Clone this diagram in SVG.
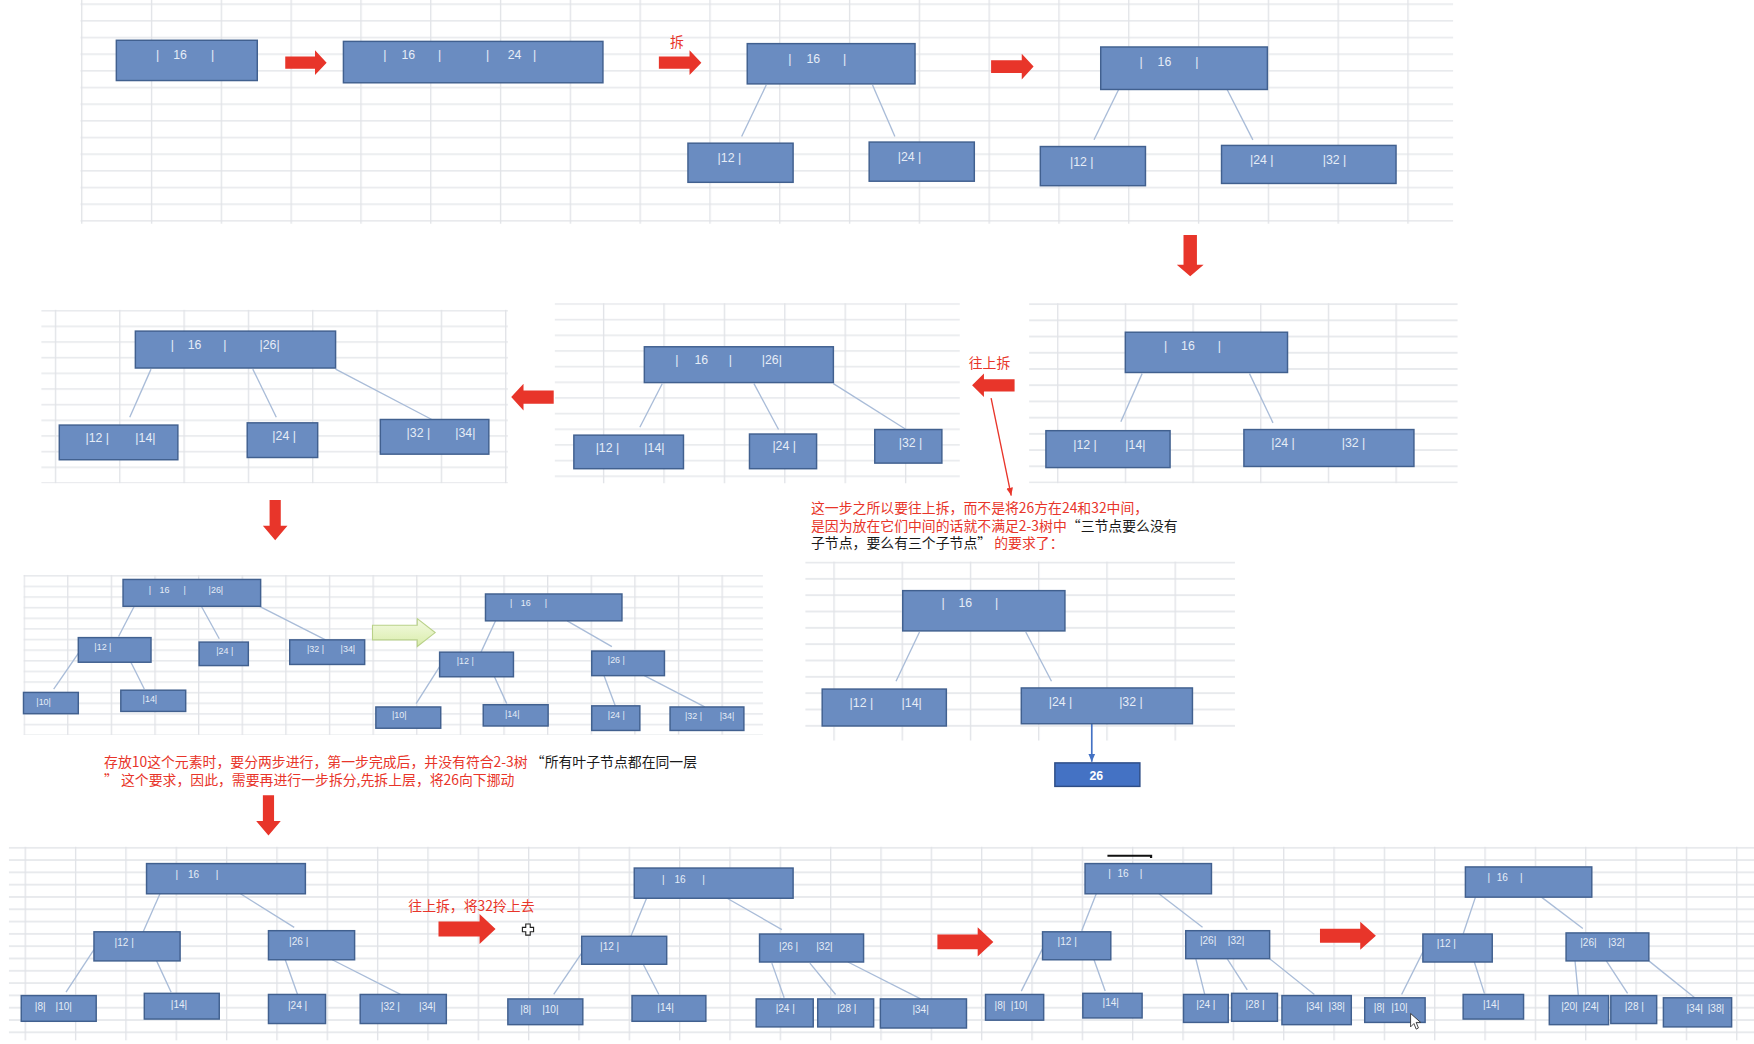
<svg xmlns="http://www.w3.org/2000/svg" width="1754" height="1044" viewBox="0 0 1754 1044">
<style>
.n rect{fill:#6a8cc1;stroke:#41608f;stroke-width:1.3}
.n text{fill:#e6edf7;font-family:"Liberation Sans",Arial,sans-serif;font-size:11px;text-anchor:middle}
.s text{font-size:8px}
.m text{font-size:9px}
.e line{stroke:#a9bcd8;stroke-width:1.2}
.ar{fill:#e8352a}
.t{font-family:"Noto Sans CJK SC","Liberation Sans",sans-serif;font-size:12.4px}
.r{fill:#e8352a}
.k{fill:#1a1a1a}
.gl{stroke:#e1e3e7;stroke-width:1.2;fill:none}
</style>
<defs>
<pattern id="gA" x="72.5" y="3" width="62.4" height="14.9" patternUnits="userSpaceOnUse"><path class="gl" d="M0,0.8H62.4M0.6,0V14.9"/></pattern>
<pattern id="gB1" x="49" y="277" width="57.5" height="14" patternUnits="userSpaceOnUse"><path class="gl" d="M0,0.8H57.5M0.6,0V14"/></pattern>
<pattern id="gB2" x="539" y="271" width="54" height="14" patternUnits="userSpaceOnUse"><path class="gl" d="M0,0.8H54M0.6,0V14"/></pattern>
<pattern id="gB3" x="945" y="271" width="60.5" height="14.5" patternUnits="userSpaceOnUse"><path class="gl" d="M0,0.8H60.5M0.6,0V14.5"/></pattern>
<pattern id="gC1" x="21" y="514" width="39" height="9.5" patternUnits="userSpaceOnUse"><path class="gl" d="M0,0.8H39M0.6,0V9.5"/></pattern>
<pattern id="gC2" x="745" y="502" width="61" height="14.6" patternUnits="userSpaceOnUse"><path class="gl" d="M0,0.8H61M0.6,0V14.6"/></pattern>
<pattern id="gD" x="22" y="757" width="45" height="11" patternUnits="userSpaceOnUse"><path class="gl" d="M0,0.8H45M0.6,0V11"/></pattern>
<linearGradient id="gg" x1="0" y1="0" x2="0" y2="1"><stop offset="0" stop-color="#f4fae3"/><stop offset="1" stop-color="#d9edaa"/></linearGradient>
<marker id="ma" markerWidth="8" markerHeight="8" refX="7" refY="4" orient="auto" markerUnits="userSpaceOnUse"><path d="M0,1L7,4L0,7Z" fill="#e8352a"/></marker>
<marker id="mb" markerWidth="8" markerHeight="8" refX="7" refY="4" orient="auto" markerUnits="userSpaceOnUse"><path d="M0,1L7,4L0,7Z" fill="#4472c4"/></marker>
</defs>
<rect width="1754" height="1044" fill="#fff"/>
<g transform="scale(1.11862)">
<g id="grids">
<rect x="72" y="0" width="1227" height="200" fill="url(#gA)"/>
<rect x="37" y="277" width="417" height="155" fill="url(#gB1)"/>
<rect x="496" y="271" width="362" height="161" fill="url(#gB2)"/>
<rect x="920" y="271" width="383" height="161" fill="url(#gB3)"/>
<rect x="21" y="514" width="661" height="143" fill="url(#gC1)"/>
<rect x="720" y="502" width="384" height="160" fill="url(#gC2)"/>
<rect x="8" y="757" width="1560" height="173" fill="url(#gD)"/>
</g>

<g id="connectors" class="e">
<line x1="685" y1="76" x2="663" y2="122"/>
<line x1="780" y1="76" x2="800" y2="122"/>
<line x1="1000" y1="80" x2="978" y2="125"/>
<line x1="1097" y1="80" x2="1120" y2="125"/>
<line x1="1021" y1="334" x2="1002" y2="377"/>
<line x1="1117" y1="334" x2="1138" y2="378"/>
<line x1="592" y1="343" x2="572" y2="382"/>
<line x1="674" y1="343" x2="696" y2="384"/>
<line x1="745" y1="343" x2="810" y2="384"/>
<line x1="135" y1="330" x2="116" y2="373"/>
<line x1="226" y1="330" x2="247" y2="373"/>
<line x1="300" y1="330" x2="386" y2="375"/>
<line x1="120" y1="542" x2="106" y2="569"/>
<line x1="180" y1="542" x2="196" y2="571"/>
<line x1="232" y1="542" x2="291" y2="572"/>
<line x1="70" y1="584" x2="48" y2="616"/>
<line x1="117" y1="592" x2="129" y2="616"/>
<line x1="443" y1="555" x2="430" y2="583"/>
<line x1="507" y1="555" x2="547" y2="578"/>
<line x1="393" y1="596" x2="372" y2="629"/>
<line x1="442" y1="605" x2="453" y2="629"/>
<line x1="540" y1="604" x2="550" y2="631"/>
<line x1="576" y1="604" x2="630" y2="632"/>
<line x1="822" y1="565" x2="801" y2="609"/>
<line x1="917" y1="565" x2="940" y2="609"/>
<line x1="143" y1="799" x2="128" y2="833"/>
<line x1="215" y1="799" x2="263" y2="829"/>
<line x1="84" y1="849" x2="59" y2="887"/>
<line x1="140" y1="859" x2="153" y2="887"/>
<line x1="255" y1="858" x2="266" y2="889"/>
<line x1="297" y1="858" x2="358" y2="889"/>
<line x1="578" y1="803" x2="564" y2="837"/>
<line x1="650" y1="803" x2="699" y2="831"/>
<line x1="520" y1="852" x2="495" y2="889"/>
<line x1="575" y1="862" x2="589" y2="889"/>
<line x1="690" y1="861" x2="701" y2="892"/>
<line x1="724" y1="861" x2="747" y2="889"/>
<line x1="758" y1="860" x2="823" y2="893"/>
<line x1="980" y1="799" x2="967" y2="832"/>
<line x1="1036" y1="799" x2="1075" y2="829"/>
<line x1="932" y1="848" x2="913" y2="886"/>
<line x1="978" y1="858" x2="988" y2="886"/>
<line x1="1069" y1="857" x2="1077" y2="889"/>
<line x1="1097" y1="857" x2="1115" y2="885"/>
<line x1="1135" y1="857" x2="1175" y2="889"/>
<line x1="1319" y1="802" x2="1308" y2="835"/>
<line x1="1378" y1="802" x2="1415" y2="830"/>
<line x1="1272" y1="851" x2="1253" y2="889"/>
<line x1="1318" y1="860" x2="1327" y2="888"/>
<line x1="1408" y1="859" x2="1411" y2="890"/>
<line x1="1436" y1="859" x2="1455" y2="888"/>
<line x1="1474" y1="859" x2="1515" y2="892"/>
<line x1="976" y1="647" x2="976" y2="681" style="stroke:#4472c4;stroke-width:1.5" marker-end="url(#mb)"/>
<line x1="886" y1="356" x2="904" y2="443" style="stroke:#e8352a;stroke-width:1.2" marker-end="url(#ma)"/>
</g>

<g id="arrows">
<path class="ar" d="M255,50.5H281.6V45L292,56L281.6,67V61.5H255Z"/>
<path class="ar" d="M589,50.5H616.4V45L627,56L616.4,67V61.5H589Z"/>
<path class="ar" d="M886,53.75H913.4V48L924,59.5L913.4,71V65.25H886Z"/>
<path class="ar" d="M1058,210H1070V236.6H1076L1064,247L1052,236.6H1058Z"/>
<path class="ar" d="M907,339H879.6V334L869,344.5L879.6,355V350H907Z"/>
<path class="ar" d="M495,349H468V343L457,355L468,367V361H495Z"/>
<path class="ar" d="M241,447H251V470H257L246,483L235,470H241Z"/>
<path class="ar" d="M235,711H245V734H251L240,747L229,734H235Z"/>
<path class="ar" d="M392,823.75H428.7V817L443,830.5L428.7,844V837.25H392Z"/>
<path class="ar" d="M838,835.5H874V829L888,842L874,855V848.5H838Z"/>
<path class="ar" d="M1180,830.25H1216V824L1230,836.5L1216,849V842.75H1180Z"/>
<path d="M333,559H373V553L389,565.5L373,578V572H333Z" fill="url(#gg)" stroke="#b9d189" stroke-width="1"/>
</g>

<g id="row1">
<g id="n1" class="n"><rect x="104" y="36" width="126" height="36"/><text y="53"><tspan x="141">|</tspan><tspan x="161">16</tspan><tspan x="190">|</tspan></text></g>
<g id="n2" class="n"><rect x="307" y="37" width="232" height="37"/><text y="53"><tspan x="344">|</tspan><tspan x="365">16</tspan><tspan x="393">|</tspan><tspan x="436">|</tspan><tspan x="460">24</tspan><tspan x="478">|</tspan></text></g>
<g id="n3" class="n"><rect x="668" y="39" width="150" height="36"/><text y="56"><tspan x="706">|</tspan><tspan x="727">16</tspan><tspan x="755">|</tspan></text></g>
<g id="n3a" class="n"><rect x="615" y="128" width="94" height="35"/><text x="652" y="145">|12 |</text></g>
<g id="n3b" class="n"><rect x="777" y="127" width="94" height="35"/><text x="813" y="144">|24 |</text></g>
<g id="n4" class="n"><rect x="984" y="42" width="149" height="38"/><text y="59"><tspan x="1020">|</tspan><tspan x="1041">16</tspan><tspan x="1070">|</tspan></text></g>
<g id="n4a" class="n"><rect x="930" y="131" width="94" height="35"/><text x="967" y="148">|12 |</text></g>
<g id="n4b" class="n"><rect x="1092" y="130" width="156" height="34"/><text y="147"><tspan x="1128">|24 |</tspan><tspan x="1193">|32 |</tspan></text></g>
</g>

<g id="row2">
<g id="m1" class="n"><rect x="1006" y="297" width="145" height="36"/><text y="313"><tspan x="1042">|</tspan><tspan x="1062">16</tspan><tspan x="1090">|</tspan></text></g>
<g id="m1a" class="n"><rect x="935" y="385" width="111" height="33"/><text y="401"><tspan x="970">|12 |</tspan><tspan x="1015">|14|</tspan></text></g>
<g id="m1b" class="n"><rect x="1112" y="384" width="152" height="33"/><text y="400"><tspan x="1147">|24 |</tspan><tspan x="1210">|32 |</tspan></text></g>
<g id="c1" class="n"><rect x="576" y="310" width="169" height="32"/><text y="325"><tspan x="605">|</tspan><tspan x="627">16</tspan><tspan x="653">|</tspan><tspan x="690">|26|</tspan></text></g>
<g id="c1a" class="n"><rect x="513" y="389" width="98" height="30"/><text y="404"><tspan x="543">|12 |</tspan><tspan x="585">|14|</tspan></text></g>
<g id="c1b" class="n"><rect x="670" y="388" width="60" height="31"/><text x="701" y="402">|24 |</text></g>
<g id="c1c" class="n"><rect x="782" y="384" width="60" height="30"/><text x="814" y="400">|32 |</text></g>
<g id="l1" class="n"><rect x="121" y="296" width="179" height="33"/><text y="312"><tspan x="154">|</tspan><tspan x="174">16</tspan><tspan x="201">|</tspan><tspan x="241">|26|</tspan></text></g>
<g id="l1a" class="n"><rect x="53" y="380" width="106" height="31"/><text y="395"><tspan x="87">|12 |</tspan><tspan x="130">|14|</tspan></text></g>
<g id="l1b" class="n"><rect x="221" y="378" width="63" height="31"/><text x="254" y="393">|24 |</text></g>
<g id="l1c" class="n"><rect x="340" y="375" width="97" height="31"/><text y="391"><tspan x="374">|32 |</tspan><tspan x="416">|34|</tspan></text></g>
</g>

<g id="row3" >
<g id="p1" class="n s"><rect x="110" y="518" width="123" height="24"/><text y="530"><tspan x="134">|</tspan><tspan x="147">16</tspan><tspan x="165">|</tspan><tspan x="193">|26|</tspan></text></g>
<g id="p1a" class="n s"><rect x="70" y="570" width="65" height="22"/><text x="92" y="581">|12 |</text></g>
<g id="p1b" class="n s"><rect x="178" y="574" width="44" height="21"/><text x="201" y="585">|24 |</text></g>
<g id="p1c" class="n s"><rect x="259" y="572" width="67" height="22"/><text y="583"><tspan x="282">|32 |</tspan><tspan x="311">|34|</tspan></text></g>
<g id="p1d" class="n s"><rect x="21" y="619" width="49" height="19"/><text x="39" y="630">|10|</text></g>
<g id="p1e" class="n s"><rect x="108" y="617" width="58" height="19"/><text x="134" y="628">|14|</text></g>
<g id="p2" class="n s"><rect x="434" y="531" width="122" height="24"/><text y="542"><tspan x="457">|</tspan><tspan x="470">16</tspan><tspan x="488">|</tspan></text></g>
<g id="p2a" class="n s"><rect x="393" y="583" width="66" height="22"/><text x="416" y="594">|12 |</text></g>
<g id="p2b" class="n s"><rect x="529" y="582" width="65" height="22"/><text x="551" y="593">|26 |</text></g>
<g id="p2c" class="n s"><rect x="336" y="632" width="58" height="19"/><text x="357" y="642">|10|</text></g>
<g id="p2d" class="n s"><rect x="432" y="630" width="58" height="19"/><text x="458" y="641">|14|</text></g>
<g id="p2e" class="n s"><rect x="529" y="631" width="43" height="22"/><text x="551" y="642">|24 |</text></g>
<g id="p2f" class="n s"><rect x="599" y="632" width="66" height="21"/><text y="643"><tspan x="620">|32 |</tspan><tspan x="650">|34|</tspan></text></g>
<g id="q1" class="n"><rect x="807" y="528" width="145" height="36"/><text y="543"><tspan x="843">|</tspan><tspan x="863">16</tspan><tspan x="891">|</tspan></text></g>
<g id="q1a" class="n"><rect x="735" y="616" width="111" height="33"/><text y="632"><tspan x="770">|12 |</tspan><tspan x="815">|14|</tspan></text></g>
<g id="q1b" class="n"><rect x="913" y="615" width="153" height="32"/><text y="631"><tspan x="948">|24 |</tspan><tspan x="1011">|32 |</tspan></text></g>
<g id="q26"><rect x="943" y="682" width="76" height="21" fill="#4472c4" stroke="#2e4d86" stroke-width="1.3"/><text x="980" y="697" fill="#fff" font-family="Liberation Sans,Arial,sans-serif" font-size="11" font-weight="bold" text-anchor="middle">26</text></g>
</g>

<g id="row4">
<g id="T1" class="n m"><rect x="131" y="772" width="142" height="27"/><text y="785"><tspan x="158">|</tspan><tspan x="173">16</tspan><tspan x="194">|</tspan></text></g>
<g id="T1a" class="n m"><rect x="84" y="833" width="77" height="26"/><text x="111" y="846">|12 |</text></g>
<g id="T1b" class="n m"><rect x="240" y="832" width="77" height="26"/><text x="267" y="845">|26 |</text></g>
<g id="T1c" class="n m"><rect x="19" y="890" width="67" height="23"/><text y="903"><tspan x="36">|8|</tspan><tspan x="57">|10|</tspan></text></g>
<g id="T1d" class="n m"><rect x="129" y="888" width="67" height="23"/><text x="160" y="901">|14|</text></g>
<g id="T1e" class="n m"><rect x="240" y="889" width="51" height="26"/><text x="266" y="902">|24 |</text></g>
<g id="T1f" class="n m"><rect x="322" y="889" width="77" height="26"/><text y="903"><tspan x="349">|32 |</tspan><tspan x="382">|34|</tspan></text></g>
<g id="T2" class="n m"><rect x="567" y="776" width="142" height="27"/><text y="789"><tspan x="593">|</tspan><tspan x="608">16</tspan><tspan x="629">|</tspan></text></g>
<g id="T2a" class="n m"><rect x="520" y="837" width="76" height="25"/><text x="545" y="849">|12 |</text></g>
<g id="T2b" class="n m"><rect x="679" y="835" width="93" height="25"/><text y="849"><tspan x="705">|26 |</tspan><tspan x="737">|32|</tspan></text></g>
<g id="T2c" class="n m"><rect x="454" y="893" width="67" height="23"/><text y="906"><tspan x="470">|8|</tspan><tspan x="492">|10|</tspan></text></g>
<g id="T2d" class="n m"><rect x="565" y="890" width="66" height="23"/><text x="595" y="904">|14|</text></g>
<g id="T2e" class="n m"><rect x="676" y="893" width="51" height="25"/><text x="702" y="905">|24 |</text></g>
<g id="T2f" class="n m"><rect x="731" y="893" width="50" height="25"/><text x="757" y="905">|28 |</text></g>
<g id="T2g" class="n m"><rect x="787" y="893" width="77" height="26"/><text x="823" y="906">|34|</text></g>
<g id="T3" class="n m"><rect x="970" y="772" width="113" height="27"/><text y="784"><tspan x="992">|</tspan><tspan x="1004">16</tspan><tspan x="1020">|</tspan></text></g>
<g id="T3a" class="n m"><rect x="932" y="833" width="61" height="25"/><text x="954" y="845">|12 |</text></g>
<g id="T3b" class="n m"><rect x="1060" y="832" width="75" height="25"/><text y="844"><tspan x="1080">|26|</tspan><tspan x="1105">|32|</tspan></text></g>
<g id="T3c" class="n m"><rect x="881" y="889" width="52" height="23"/><text y="902"><tspan x="894">|8|</tspan><tspan x="911">|10|</tspan></text></g>
<g id="T3d" class="n m"><rect x="968" y="888" width="53" height="22"/><text x="993" y="899">|14|</text></g>
<g id="T3e" class="n m"><rect x="1058" y="889" width="40" height="25"/><text x="1078" y="901">|24 |</text></g>
<g id="T3f" class="n m"><rect x="1101" y="888" width="41" height="25"/><text x="1122" y="901">|28 |</text></g>
<g id="T3g" class="n m"><rect x="1146" y="890" width="62" height="26"/><text y="903"><tspan x="1175">|34|</tspan><tspan x="1195">|38|</tspan></text></g>
<g id="T4" class="n m"><rect x="1310" y="775" width="113" height="27"/><text y="788"><tspan x="1331">|</tspan><tspan x="1343">16</tspan><tspan x="1360">|</tspan></text></g>
<g id="T4a" class="n m"><rect x="1272" y="835" width="62" height="25"/><text x="1293" y="847">|12 |</text></g>
<g id="T4b" class="n m"><rect x="1400" y="834" width="74" height="25"/><text y="846"><tspan x="1420">|26|</tspan><tspan x="1445">|32|</tspan></text></g>
<g id="T4c" class="n m"><rect x="1220" y="892" width="54" height="22"/><text y="904"><tspan x="1233">|8|</tspan><tspan x="1251">|10|</tspan></text></g>
<g id="T4d" class="n m"><rect x="1308" y="889" width="54" height="22"/><text x="1333" y="901">|14|</text></g>
<g id="T4e" class="n m"><rect x="1385" y="890" width="53" height="26"/><text y="903"><tspan x="1403">|20|</tspan><tspan x="1422">|24|</tspan></text></g>
<g id="T4f" class="n m"><rect x="1440" y="890" width="41" height="25"/><text x="1461" y="903">|28 |</text></g>
<g id="T4g" class="n m"><rect x="1487" y="892" width="61" height="26"/><text y="905"><tspan x="1515">|34|</tspan><tspan x="1534">|38|</tspan></text></g>
</g>

<g id="labels" class="t">
<text x="599" y="42" class="r">拆</text>
<text x="866" y="329" class="r">往上拆</text>
<text x="725" y="459"><tspan class="r">这一步之所以要往上拆，而不是将26方在24和32中间，</tspan></text>
<text x="725" y="474.5"><tspan class="r">是因为放在它们中间的话就不满足2-3树中</tspan><tspan class="k">“三节点要么没有</tspan></text>
<text x="725" y="490"><tspan class="k">子节点，要么有三个子节点”</tspan><tspan class="r"> 的要求了：</tspan></text>
<text x="93" y="686"><tspan class="r">存放10这个元素时，要分两步进行，第一步完成后，并没有符合2-3树 </tspan><tspan class="k">“所有叶子节点都在同一层</tspan></text>
<text x="93" y="702"><tspan class="r">” 这个要求，因此，需要再进行一步拆分,先拆上层，将26向下挪动</tspan></text>
<text x="365" y="814" class="r">往上拆，将32拎上去</text>
</g>

<g id="cursors">
<path d="M990,765H1029V767" fill="none" stroke="#111" stroke-width="2"/>
<path d="M470,826h4v3h3v4h-3v3h-4v-3h-3v-4h3z" fill="#fff" stroke="#222" stroke-width="1"/>
<path d="M1261,906L1261,918L1264,915L1266,920L1268,919L1266,914L1270,914Z" fill="#fff" stroke="#333" stroke-width="0.8"/>
</g>
</g>
</svg>
